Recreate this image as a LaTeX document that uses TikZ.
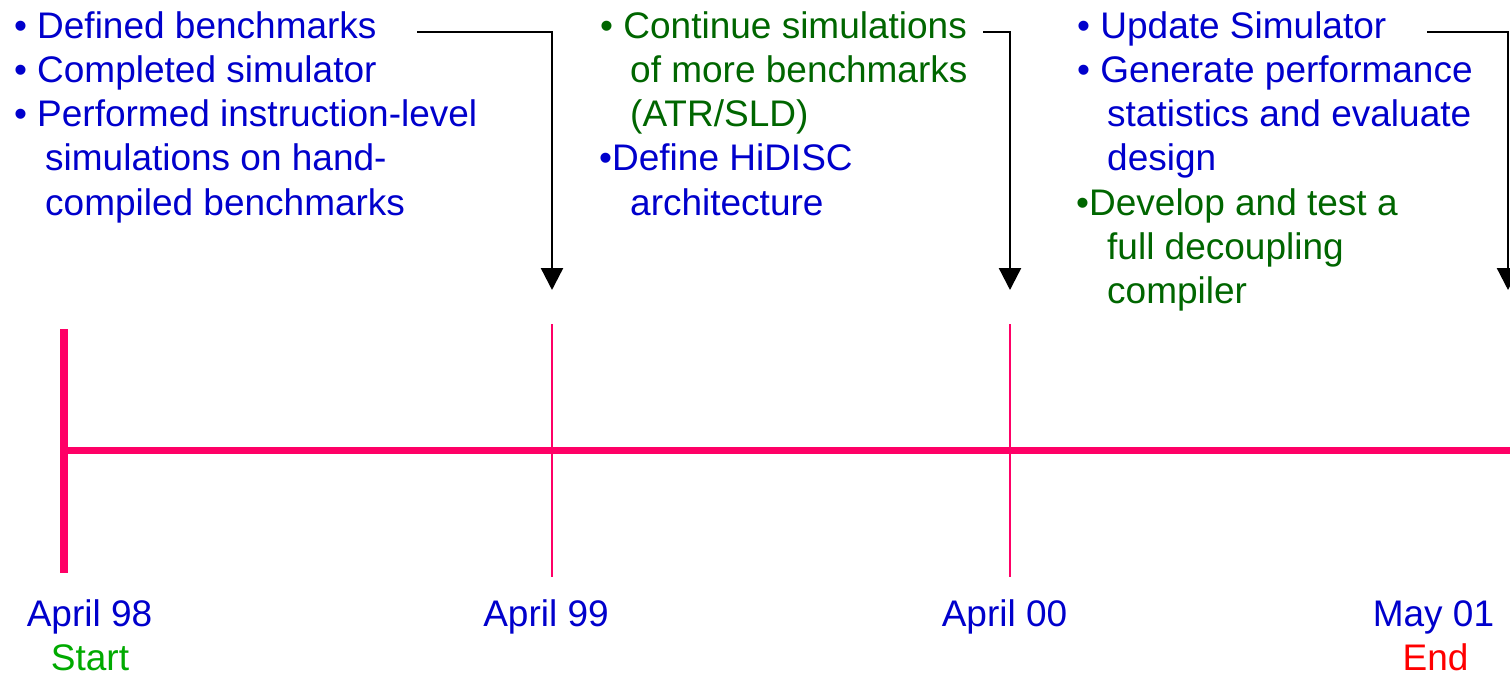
\documentclass[tikz,border=0pt]{standalone}
\usepackage{fontspec}
\setmainfont{Liberation Sans}
\usetikzlibrary{arrows.meta}
\definecolor{planblue}{RGB}{0,0,204}
\definecolor{plangreen}{RGB}{0,102,0}
\definecolor{startgreen}{RGB}{0,170,0}
\definecolor{endred}{RGB}{255,0,0}
\definecolor{axispink}{RGB}{255,0,102}
\tikzset{
  line/.style={anchor=base west, inner sep=0pt, font=\fontsize{37}{44}\selectfont},
  bline/.style={line, text=planblue},
  gline/.style={line, text=plangreen},
  datelabel/.style={anchor=base, inner sep=0pt, font=\fontsize{37}{44}\selectfont},
  conn/.style={draw=black, line width=2.4pt, -{Triangle[width=22pt,length=22pt]}},
  tick/.style={draw=axispink, line width=2.3pt},
  axis/.style={draw=axispink, line width=7.7pt},
}
\begin{document}
\begin{tikzpicture}[x=1pt, y=-1pt]
\clip (0,0) rectangle (1510,679);
\fill[white] (0,0) rectangle (1510,679);

% first phase
\node[bline] (p1a) at (13.8,39)  {• Defined benchmarks};
\node[bline] (p1b) at (13.8,83)  {• Completed simulator};
\node[bline] (p1c) at (13.8,127) {• Performed instruction-level};
\node[bline] (p1d) at (45,171)   {simulations on hand-};
\node[bline] (p1e) at (45,215)   {compiled benchmarks};

% second phase
\node[gline] (p2a) at (600,39)  {• Continue simulations};
\node[gline] (p2b) at (630,83)  {of more benchmarks};
\node[gline] (p2c) at (630,127) {(ATR/SLD)};
\node[bline] (p2d) at (599,171) {•Define HiDISC};
\node[bline] (p2e) at (630,215) {architecture};

% third phase
\node[bline] (p3a) at (1077,39)  {• Update Simulator};
\node[bline] (p3b) at (1077,83)  {• Generate performance};
\node[bline] (p3c) at (1107,127) {statistics and evaluate};
\node[bline] (p3d) at (1107,171) {design};
\node[gline] (p3e) at (1076,215) {•Develop and test a};
\node[gline] (p3f) at (1107,259) {full decoupling};
\node[gline] (p3g) at (1107,303) {compiler};

% connector end points
\coordinate (c1s) at (417,32);
\coordinate (c1e) at (552,290);
\coordinate (c2s) at (983,32);
\coordinate (c2e) at (1010,290);
\coordinate (c3s) at (1427,32);
\coordinate (c3e) at (1508,290);

\draw[conn] (c1s) -| (c1e);
\draw[conn] (c2s) -| (c2e);
\draw[conn] (c3s) -| (c3e);

% time axis
\coordinate (t0) at (64,450.5);
\coordinate (tend) at (1520,450.5);
\draw[axis] (t0) -- (tend);
\draw[axis] (64,329) -- (64,573);
\draw[tick] (552,324) -- (552,577);
\draw[tick] (1010,324) -- (1010,577);

% dates
\node[datelabel, text=planblue]   (d1) at (89.5,626)  {April 98};
\node[datelabel, text=startgreen] (s1) at (90,670)    {Start};
\node[datelabel, text=planblue]   (d2) at (546,626)   {April 99};
\node[datelabel, text=planblue]   (d3) at (1004.5,626) {April 00};
\node[datelabel, text=planblue]   (d4) at (1433.5,626) {May 01};
\node[datelabel, text=endred]     (e1) at (1435.5,670) {End};
\end{tikzpicture}
\end{document}
